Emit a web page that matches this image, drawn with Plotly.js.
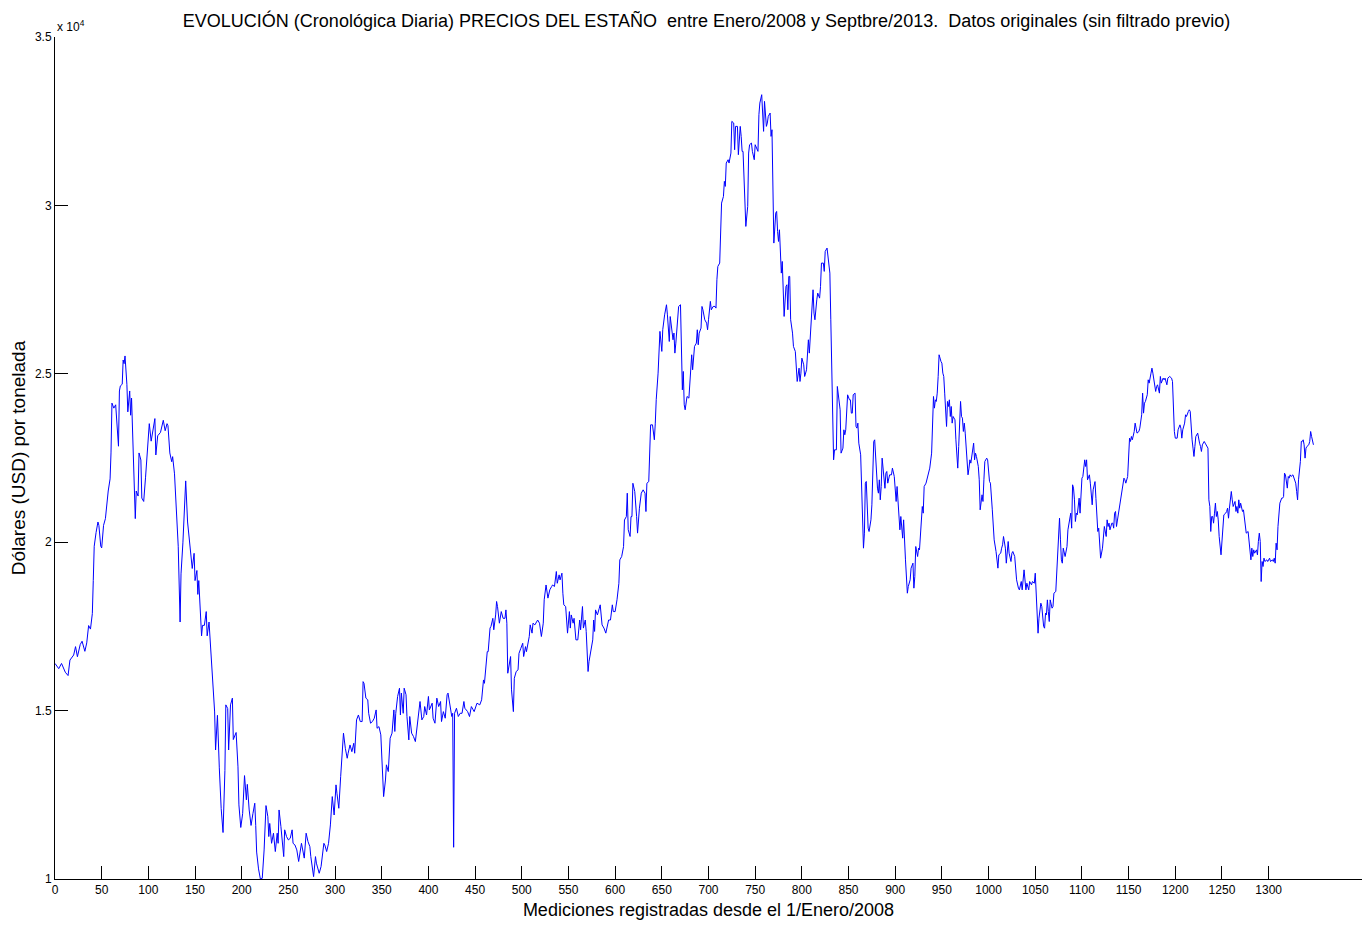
<!DOCTYPE html>
<html>
<head>
<meta charset="utf-8">
<script src="https://cdn.plot.ly/plotly-3.0.1.min.js"></script>
<style>html,body{margin:0;padding:0;background:#fff;}#chart{width:1368px;height:928px;}</style>
</head>
<body>
<div id="chart"></div>
<script>
// Measurement index (days since 1/Jan/2008)
const medicion = [
0,4,7,11,14,16,20,22,24,27,29,32,34,36,38,40,41,42,44,46,47,49,50,52,54,55,57,59,60,61,63,65,68,69,70,72,73,74,75,77,78,80,81,82,83,85,86,87,89,90,92,93,95,97,99,101,103,105,107,108,110,113,116,118,120,121,123,125,126,128,130,132,134,135,137,139,140,142,144,145,147,149,150,152,153,154,157,158,160,162,163,165,167,169,171,172,174,176,178,180,182,183,185,186,188,190,191,194,196,197,199,201,203,205,206,208,210,212,214,
215,216,218,220,222,224,226,228,229,230,232,234,236,238,239,240,242,244,245,246,248,250,252,254,255,257,259,261,263,264,267,269,271,273,274,277,279,280,283,285,288,289,291,293,295,297,299,301,302,304,306,309,311,313,314,316,318,320,321,323,325,327,329,330,331,333,335,336,338,340,342,344,345,347,349,351,352,354,355,357,359,361,363,364,365,367,369,370,371,373,374,376,377,379,380,382,384,386,388,389,391,393,395,396,398,400,401,404,405,407,409,411,413,414,416,418,420,421,423,425,426,427,428,430,432,434,436,438,
439,441,442,444,446,448,449,452,455,457,458,459,460,462,463,464,466,467,469,470,472,473,474,476,478,480,482,483,484,485,487,488,489,491,492,494,496,497,499,501,502,504,505,507,508,509,511,512,514,517,519,521,523,524,526,528,530,532,533,535,537,538,540,541,543,544,545,547,548,549,551,552,553,555,556,558,560,562,563,565,566,568,569,571,572,574,576,577,578,579,581,583,584,586,588,590,592,593,595,597,598,600,602,604,605,607,609,610,612,613,614,616,617,618,619,621,623,624,626,628,630,632,633,634,636,637,638,640,642,643,644,646,647,648,650,651,653,655,656,658,659,660,662,663,
664,665,667,668,670,671,672,673,674,675,677,679,680,682,683,685,687,688,689,690,692,693,694,696,698,699,700,702,703,705,707,708,709,710,712,713,714,716,717,718,719,721,722,724,725,727,728,729,731,732,734,735,736,737,738,739,740,742,743,744,746,747,749,750,752,753,754,755,757,758,759,760,762,763,764,766,767,768,769,770,772,773,774,775,776,777,778,779,780,781,783,784,785,786,787,788,790,791,793,794,795,797,798,799,800,802,803,805,806,807,808,810,811,812,813,814,816,817,819,820,821,823,824,825,827,828,829,830,831,832,833,834,835,837,838,839,840,841,842,844,845,846,847,848,849,851,852,853,854,855,857,858,859,860,861,863,864,865,866,867,868,869,870,871,872,874,875,876,877,878,879,880,881,882,883,884,885,886,888,
889,890,891,892,894,896,897,899,901,902,903,904,905,906,908,909,910,911,913,914,916,917,919,920,921,922,924,925,926,928,929,930,931,933,934,936,937,939,940,941,942,943,944,945,946,947,949,950,951,952,953,954,955,956,957,958,959,960,961,962,964,965,966,967,968,969,970,971,972,973,974,975,976,978,979,980,981,982,984,985,986,987,989,990,991,993,994,995,996,998,999,1001,1002,1004,1005,1006,1008,1009,1010,1011,1013,1014,1015,1016,1018,1019,1020,1021,1022,1024,1025,1026,1028,1029,1030,1032,1033,1035,1036,1038,1039,1040,1041,1043,1044,1046,1047,1049,1050,1051,1052,1053,1054,1056,1057,1059,1060,1061,1062,1063,1064,1065,1066,1068,1069,1070,1072,1073,1074,1075,1076,1077,1078,1079,1080,1082,1083,1084,1085,1087,1088,1089,1090,1091,1092,1093,1094,1095,1097,1098,1099,1100,1101,1102,1103,1104,1105,1106,1108,1109,1110,1111,1112,1113,
1114,1115,1116,1117,1118,1119,1120,1122,1123,1124,1126,1127,1128,1129,1130,1132,1133,1134,1135,1136,1137,1139,1140,1141,1142,1144,1145,1146,1147,1149,1150,1151,1152,1153,1154,1156,1157,1158,1159,1161,1162,1164,1165,1166,1167,1168,1170,1171,1172,1174,1175,1176,1178,1179,1180,1181,1183,1184,1185,1187,1188,1189,1191,1192,1194,1196,1197,1198,1199,1200,1202,1203,1205,1206,1207,1208,1209,1210,1211,1212,1214,1215,1216,1217,1218,1219,1220,1221,1222,1224,1225,1226,1227,1228,1229,1231,1232,1234,1235,1236,1237,1238,1239,1240,1241,1242,1243,1244,1245,1246,1247,1249,1250,1251,1252,1254,1255,1256,1257,1258,1259,1260,1261,1262,1264,1265,1266,1267,1268,1269,1270,1272,1273,1274,1275,1276,1278,1279,1280,1281,1282,1283,1284,1285,1287,1288,1289,1290,1291,1292,1293,1294,1295,1296,1298,1299,1301,1302,1304,1305,1306,1307,1308,1309,1310,1311,1312,1314,1315,1316,1317,1318,1320,1321,1322,1323,1324,1326,1327,1329,1330,1331,1332,1333,1334,1335,1336,1337,1338,1339,1340,1341,1343,1344,1345,1346,1347,1348
];

// Tin price, USD per tonne
const precio = [
16400,16245,16400,16140,16040,16500,16650,16900,16600,16960,17060,16760,17010,17525,17420,17880,18860,19880,20290,20600,20500,19880,19830,20500,20700,21000,21520,21880,22650,24130,23980,24080,22850,24490,24640,24690,25410,25300,25530,24690,23870,24490,23770,24280,23460,21930,20700,21520,21370,22650,22440,21310,21210,21930,22650,23520,23000,23410,23670,22590,23160,23260,23620,23310,23520,23460,22650,22390,22540,22030,20800,19880,17630,19060,19980,21410,21820,20600,19980,19670,19220,19670,18860,19160,18450,18860,17220,17530,17530,17940,17220,17630,16810,15780,14960,13830,14860,13300,12090,11380,13220,15170,15060,13830,15170,15370,14140,14350,13330,12200,11530,11940,13070,12350,12810,12050,11590,11940,12250,
11590,10800,10300,10000,10020,10863,12180,11850,11260,11650,11060,11360,10815,11360,11060,12050,11556,11060,10665,11460,11260,11160,11210,11460,11060,11010,10863,10520,10960,11060,10620,11360,11110,10960,10665,10070,10665,10470,10170,10370,11060,11010,10815,11060,11606,12447,11900,12795,12546,12100,13040,14330,13880,13585,13734,13980,13780,14030,13734,14724,14870,14675,14675,15860,15810,15370,15320,14920,14625,14675,14774,15020,14475,14525,14280,13240,12447,12940,13390,13190,14180,14330,15020,14380,14920,15420,15665,14870,15520,14920,15665,15470,14825,14130,14825,14330,14230,14080,14625,14724,15270,14724,14825,15120,14870,15420,15020,15220,14774,14625,15370,15120,15270,14675,14970,14774,15470,15520,15120,14825,14920,10942,14920,15070,14825,14920,14920,15270,
15070,15020,14970,14823,15120,15020,14970,15220,15170,15320,15760,15910,15810,16400,16750,16750,17450,17500,17740,17400,17840,18240,18090,17595,17940,17740,17740,17990,17595,16110,16510,16605,15615,14970,15960,16160,16210,16700,16850,17000,16605,16900,16750,17100,17200,17545,17300,17595,17545,17690,17595,17200,17595,18290,18730,18340,18585,18685,18730,18685,19130,18780,19030,18880,19080,18485,18140,18090,17690,17300,17940,17450,17840,17595,17740,17100,17100,17690,17400,18090,17450,17690,17350,16160,16455,16850,17100,17690,17350,17990,17840,18040,18140,17545,17450,17300,17545,17690,17690,18140,17940,17940,18290,18780,19475,19575,19870,20660,20760,21455,20370,20170,20760,20760,21750,21505,20760,20270,21010,21455,21555,21455,20910,21750,21800,22645,23485,23485,23040,23535,24230,25020,25715,26260,25665,26310,26750,27050,26750,25960,26700,26505,26010,26210,
25614,25911,26505,27000,27050,25812,24525,25070,24080,23931,24327,24277,24822,25565,25119,25812,25911,26307,25861,26208,26357,27000,26901,26604,26505,26307,26604,27150,26901,27000,27000,26950,27792,28188,28287,29277,30069,30267,30713,30564,31257,31356,31257,31554,32495,32445,31653,32346,32346,31505,32346,32049,31604,31604,30762,30366,29376,29970,31554,31802,31851,31604,31356,31802,31653,31604,32693,33039,33287,32742,32198,33089,32346,32445,32643,32742,32049,32247,30762,28881,29772,29821,29228,28930,29277,28386,27990,28336,27396,26703,27594,27644,26901,27891,27891,26604,26208,25812,25663,25218,24772,25168,24772,25020,25465,25267,24921,25119,25614,26010,25614,26406,27000,27495,26802,26604,27198,27396,27247,27594,28287,28287,28040,28634,28733,28485,28040,27990,26604,24822,23634,22446,22743,22743,24624,24426,24228,23931,22644,22793,23337,23189,23337,23832,24376,24228,24228,23832,23832,24376,24426,23436,23387,23535,22941,22595,21357,20070,19823,20268,21753,21803,20664,20416,20317,20664,21110,22149,22991,23040,22545,21852,21605,21456,21852,21258,21654,22496,21951,
21600,22050,22100,21753,22000,22000,22199,21951,21209,21654,21258,20813,20367,20763,20120,20664,19872,19476,18486,18684,18882,19229,19377,18635,18981,19872,19575,19823,19773,20763,21060,20862,21654,21753,21852,22100,22199,22644,24030,24327,23980,24228,24179,24426,24921,25565,25367,25317,25020,24921,24426,23881,23436,24179,24030,24228,23733,24030,23535,23733,23634,23040,22347,22199,22842,23535,24179,23733,23684,23288,23535,23238,22743,22000,22199,22446,22347,22595,22941,22446,22644,22545,22248,21852,20961,21407,21209,21852,22397,22496,22446,21803,21753,20961,20367,20070,19724,19476,19229,19625,19674,19823,19922,20169,19823,19377,19724,20021,19674,19426,19674,19724,19575,19278,18882,18635,18585,18833,18585,19179,18932,18585,18783,18585,18833,18734,18833,18783,19080,18486,17595,17298,17744,18189,18090,17496,17447,17892,17843,18288,17942,17645,18288,18041,18090,18486,18536,19179,19773,20070,20714,20070,19476,19377,19823,19575,19773,19872,20367,20664,20862,20416,21704,21605,21258,20615,20862,20813,21308,20862,21357,21902,21951,22298,22446,22248,22446,21852,22000,21753,21357,21110,21555,21654,
21800,21300,20565,20318,20417,19971,19526,19823,20268,20466,20169,20664,20466,20565,20367,20565,20565,20417,20862,20912,20466,20862,20912,21258,21456,21753,21902,21852,21753,21951,22446,23089,22991,23139,23040,23287,23535,23337,23238,23287,23386,23783,24426,23832,24129,24178,24377,24822,24723,25020,25168,25020,24723,24476,24624,24673,24426,24921,24723,24871,24822,24871,24673,24871,24921,24871,24772,23931,23287,23089,23089,23337,23485,23386,23089,23337,23436,23535,23783,23733,23882,23931,23882,23238,23040,22793,22545,22842,23139,23238,22991,22941,22842,22694,22892,22991,22941,22842,22793,21258,21060,20318,20763,20763,20565,20862,21159,20763,20912,20664,20169,19625,20070,20713,20812,20862,20912,21011,20713,21011,21308,21506,21258,21060,21209,20912,21060,20862,21258,21011,21159,20912,20961,20664,20367,20268,20318,20070,19921,19476,19823,19575,19773,19674,19773,19625,20020,20268,20020,18832,19427,19278,19526,19427,19476,19427,19526,19427,19476,19427,19526,19377,19971,19773,20466,20912,21159,21308,21308,21357,22050,22000,21605,21951,21902,22000,21951,22000,21902,21753,21506,21258,21852,22149,22397,22991,22991,23040,22892,22496,22793,22842,22892,22991,23287,23139,22941,22892
];

const xTicks = [0,50,100,150,200,250,300,350,400,450,500,550,600,650,700,750,800,850,900,950,1000,1050,1100,1150,1200,1250,1300];
const yTickVals = [10000,15000,20000,25000,30000,35000];
const yTickText = ['1','1.5','2','2.5','3','3.5'];

const FONT = 'Liberation Sans, Arial, Helvetica, sans-serif';

const trace = {
  x: medicion,
  y: precio,
  type: 'scatter',
  mode: 'lines',
  line: {color: '#0000ff', width: 1},
  hoverinfo: 'x+y'
};

const layout = {
  width: 1368,
  height: 928,
  margin: {l: 55, r: 6, t: 37, b: 49},
  paper_bgcolor: '#ffffff',
  plot_bgcolor: '#ffffff',
  showlegend: false,
  font: {family: FONT, size: 12, color: '#000'},
  title: {
    text: 'EVOLUCIÓN (Cronológica Diaria) PRECIOS DEL ESTAÑO &nbsp;entre Enero/2008 y Septbre/2013. &nbsp;Datos originales (sin filtrado previo)',
    font: {family: FONT, size: 18, color: '#000'},
    x: 0.5165, xanchor: 'center',
    y: 0.978, yanchor: 'middle'
  },
  xaxis: {
    range: [0, 1400],
    tickvals: xTicks,
    ticktext: xTicks.map(String),
    ticks: 'inside',
    ticklen: 13,
    tickwidth: 1,
    tickcolor: '#000',
    showline: true,
    linecolor: '#000',
    linewidth: 1,
    showgrid: false,
    zeroline: false,
    mirror: false,
    automargin: false,
    tickfont: {family: FONT, size: 12, color: '#000'},
    title: {
      text: 'Mediciones registradas desde el 1/Enero/2008',
      font: {family: FONT, size: 18, color: '#000'},
      standoff: 6
    }
  },
  yaxis: {
    range: [10000, 35000],
    tickvals: yTickVals,
    ticktext: yTickText,
    ticks: 'inside',
    ticklen: 13,
    tickwidth: 1,
    tickcolor: '#000',
    showline: true,
    linecolor: '#000',
    linewidth: 1,
    showgrid: false,
    zeroline: false,
    mirror: false,
    automargin: false,
    tickfont: {family: FONT, size: 12, color: '#000'},
    title: {
      text: 'Dólares (USD) por tonelada',
      font: {family: FONT, size: 19, color: '#000'},
      standoff: 4
    }
  },
  annotations: [{
    xref: 'paper', yref: 'paper',
    x: 0, y: 1,
    xanchor: 'left', yanchor: 'bottom',
    yshift: 1,
    text: 'x 10<sup>4</sup>',
    showarrow: false,
    font: {family: FONT, size: 12, color: '#000'}
  }]
};

Plotly.newPlot('chart', [trace], layout, {displayModeBar: false, staticPlot: true});
</script>
</body>
</html>
